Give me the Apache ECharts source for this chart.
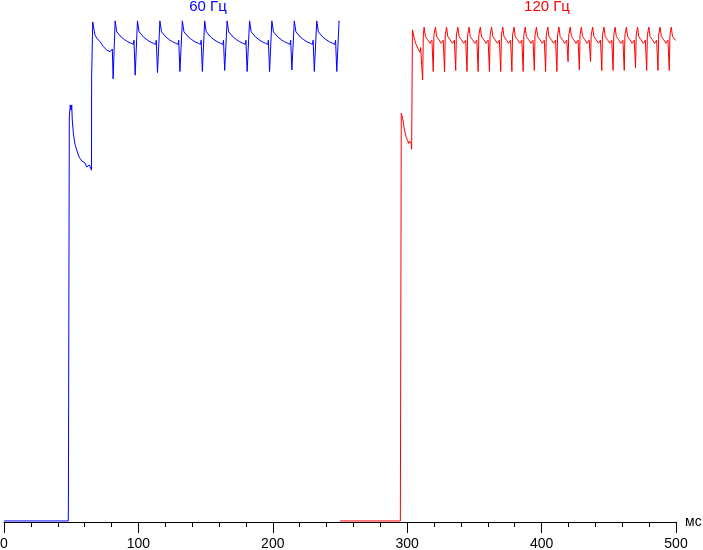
<!DOCTYPE html>
<html>
<head>
<meta charset="utf-8">
<script src="https://cdn.jsdelivr.net/npm/echarts@6/dist/echarts.min.js"></script>
<style>
  html, body { margin: 0; padding: 0; background: #fff; }
  #chart { width: 703px; height: 550px; }
</style>
</head>
<body>
<div id="chart"></div>
<script>
// time axis, ms
const xTicks = [0, 100, 200, 300, 400, 500]
const xUnit = 'мс'
const blueLabel = '60 Гц'
const redLabel = '120 Гц'

// brightness (relative), one line per refresh cycle: [ms, level]
const blueTrace = [
  [0, 0.2], [47.8, 0.2], [47.9, 2.7], [48.6, 77.6], [49.3, 79.9], [49.9, 78.9], [50.4, 79.9], [50.8, 77.0], [51.6, 74.5], [52.3, 73.2], [53.0, 72.2], [54.1, 71.3], [55.3, 70.3], [56.5, 69.7], [57.8, 69.2], [59.0, 69.0], [60.3, 68.8], [61.5, 68.0], [63.5, 68.4], [64.5, 68.6], [65.1, 67.4], [65.2, 85.1],
  [66.0, 95.8], [66.8, 96.0], [67.3, 93.9], [67.7, 93.3], [69.0, 92.7], [71.4, 92.0], [73.9, 91.1], [76.4, 90.4], [78.9, 90.1], [80.1, 89.8], [80.6, 90.6], [81.0, 90.6], [81.2, 84.9],
  [82.7, 96.0], [83.5, 96.0], [83.9, 93.9], [84.7, 93.6], [87.2, 92.9], [89.7, 92.4], [92.1, 92.0], [94.6, 91.7], [96.3, 91.5], [96.7, 92.3], [97.3, 92.3], [97.6, 85.6],
  [99.3, 96.0], [100.1, 96.0], [100.5, 93.9], [101.3, 93.6], [103.8, 92.9], [106.3, 92.4], [108.7, 92.0], [111.2, 91.7], [112.9, 91.5], [113.3, 92.3], [113.9, 92.3], [114.2, 86.1],
  [116.0, 96.0], [116.8, 96.0], [117.2, 93.9], [118.0, 93.6], [120.5, 92.9], [123.0, 92.4], [125.4, 92.0], [127.9, 91.7], [129.6, 91.5], [130.0, 92.3], [130.6, 92.3], [130.9, 86.3],
  [132.7, 96.0], [133.5, 96.0], [133.9, 93.9], [134.7, 93.6], [137.2, 92.9], [139.7, 92.4], [142.1, 92.0], [144.6, 91.7], [146.3, 91.5], [146.7, 92.3], [147.3, 92.3], [147.6, 86.3],
  [149.3, 96.0], [150.1, 96.0], [150.5, 93.9], [151.3, 93.6], [153.8, 92.9], [156.3, 92.4], [158.7, 92.0], [161.2, 91.7], [162.9, 91.5], [163.3, 92.3], [163.9, 92.3], [164.2, 86.5],
  [166.0, 96.0], [166.8, 96.0], [167.2, 93.9], [168.0, 93.6], [170.5, 92.9], [173.0, 92.4], [175.4, 92.0], [177.9, 91.7], [179.6, 91.5], [180.0, 92.3], [180.6, 92.3], [180.9, 86.3],
  [182.7, 96.0], [183.5, 96.0], [183.9, 93.9], [184.7, 93.6], [187.2, 92.9], [189.7, 92.4], [192.1, 92.0], [194.6, 91.7], [196.3, 91.5], [196.7, 92.3], [197.3, 92.3], [197.6, 86.3],
  [199.3, 96.0], [200.1, 96.0], [200.5, 93.9], [201.3, 93.6], [203.8, 92.9], [206.3, 92.4], [208.7, 92.0], [211.2, 91.7], [212.9, 91.5], [213.3, 92.3], [213.9, 92.3], [214.2, 86.6],
  [216.0, 96.0], [216.8, 96.0], [217.2, 93.9], [218.0, 93.6], [220.5, 92.9], [223.0, 92.4], [225.4, 92.0], [227.9, 91.7], [229.6, 91.5], [230.0, 92.3], [230.6, 92.3], [230.9, 86.3],
  [232.7, 96.0], [233.5, 96.0], [233.9, 93.9], [234.7, 93.6], [237.2, 92.9], [239.7, 92.4], [242.1, 92.0], [244.6, 91.7], [246.3, 91.5], [246.7, 92.3], [247.3, 92.3], [247.6, 86.3],
  [249.3, 96.0], [249.8, 95.9]
]

const redTrace = [
  [250.0, 0.2], [294.9, 0.2], [295.6, 78.3], [296.4, 78.3], [296.9, 77.0], [297.4, 76.1], [297.9, 75.1], [298.6, 74.5], [299.1, 73.8], [299.9, 73.3], [300.6, 72.9], [301.1, 72.5], [301.6, 73.0], [302.1, 72.7], [302.6, 72.9], [303.0, 72.5], [303.3, 71.4], [303.8, 71.5], [303.9, 94.3],
  [304.5, 94.3], [305.6, 92.3], [306.3, 91.7], [307.1, 91.4], [308.0, 90.7], [308.8, 90.4], [309.5, 90.0], [310.0, 90.9], [310.8, 90.7], [311.5, 84.7], [312.0, 93.3],
  [312.6, 94.8], [313.1, 94.7], [313.5, 93.0], [315.2, 92.4], [316.2, 92.1], [316.9, 91.7], [317.7, 91.6], [318.4, 92.3], [318.9, 92.3], [319.4, 86.3], [319.9, 93.3],
  [321.0, 94.8], [321.5, 94.7], [321.9, 93.0], [323.6, 92.4], [324.6, 92.1], [325.3, 91.7], [326.1, 91.6], [326.8, 92.3], [327.3, 92.3], [327.8, 86.2], [328.3, 93.3],
  [329.3, 94.8], [329.8, 94.7], [330.2, 93.0], [331.9, 92.4], [332.9, 92.1], [333.6, 91.7], [334.4, 91.6], [335.1, 92.3], [335.6, 92.3], [336.1, 86.5], [336.6, 93.3],
  [337.7, 94.8], [338.2, 94.7], [338.6, 93.0], [340.3, 92.4], [341.3, 92.1], [342.0, 91.7], [342.8, 91.6], [343.5, 92.3], [344.0, 92.3], [344.5, 86.3], [345.0, 93.3],
  [346.0, 94.8], [346.5, 94.7], [346.9, 93.0], [348.6, 92.4], [349.6, 92.1], [350.3, 91.7], [351.1, 91.6], [351.8, 92.3], [352.3, 92.3], [352.8, 86.3], [353.3, 93.3],
  [354.4, 94.8], [354.9, 94.7], [355.3, 93.0], [357.0, 92.4], [358.0, 92.1], [358.7, 91.7], [359.5, 91.6], [360.2, 92.3], [360.7, 92.3], [361.2, 86.3], [361.7, 93.3],
  [362.8, 94.8], [363.3, 94.7], [363.7, 93.0], [365.4, 92.4], [366.4, 92.1], [367.1, 91.7], [367.9, 91.6], [368.6, 92.3], [369.1, 92.3], [369.6, 86.3], [370.1, 93.3],
  [371.1, 94.8], [371.6, 94.7], [372.0, 93.0], [373.7, 92.4], [374.7, 92.1], [375.4, 91.7], [376.2, 91.6], [376.9, 92.3], [377.4, 92.3], [377.9, 86.3], [378.4, 93.3],
  [379.5, 94.8], [380.0, 94.7], [380.4, 93.0], [382.1, 92.4], [383.1, 92.1], [383.8, 91.7], [384.6, 91.6], [385.3, 92.3], [385.8, 92.3], [386.3, 86.3], [386.8, 93.3],
  [387.8, 94.8], [388.3, 94.7], [388.7, 93.0], [390.4, 92.4], [391.4, 92.1], [392.1, 91.7], [392.9, 91.6], [393.6, 92.3], [394.1, 92.3], [394.6, 86.5], [395.1, 93.3],
  [396.2, 94.8], [396.7, 94.7], [397.1, 93.0], [398.8, 92.4], [399.8, 92.1], [400.5, 91.7], [401.3, 91.6], [402.0, 92.3], [402.5, 92.3], [403.0, 86.3], [403.5, 93.3],
  [404.6, 94.8], [405.1, 94.7], [405.5, 93.0], [407.2, 92.4], [408.2, 92.1], [408.9, 91.7], [409.7, 91.6], [410.4, 92.3], [410.9, 92.3], [411.4, 86.3], [411.9, 93.3],
  [412.9, 94.8], [413.4, 94.7], [413.8, 93.0], [415.5, 92.4], [416.5, 92.1], [417.2, 91.7], [418.0, 91.6], [418.7, 92.3], [419.2, 92.3], [419.7, 88.2], [420.2, 93.3],
  [421.3, 94.8], [421.8, 94.7], [422.2, 93.0], [423.9, 92.4], [424.9, 92.1], [425.6, 91.7], [426.4, 91.6], [427.1, 92.3], [427.6, 92.3], [428.1, 86.6], [428.6, 93.3],
  [429.6, 94.8], [430.1, 94.7], [430.5, 93.0], [432.2, 92.4], [433.2, 92.1], [433.9, 91.7], [434.7, 91.6], [435.4, 92.3], [435.9, 92.3], [436.4, 88.2], [436.9, 93.3],
  [438.0, 94.8], [438.5, 94.7], [438.9, 93.0], [440.6, 92.4], [441.6, 92.1], [442.3, 91.7], [443.1, 91.6], [443.8, 92.3], [444.3, 92.3], [444.8, 86.5], [445.3, 93.3],
  [446.4, 94.8], [446.9, 94.7], [447.3, 93.0], [449.0, 92.4], [450.0, 92.1], [450.7, 91.7], [451.5, 91.6], [452.2, 92.3], [452.7, 92.3], [453.2, 86.5], [453.7, 93.3],
  [454.7, 94.8], [455.2, 94.7], [455.6, 93.0], [457.3, 92.4], [458.3, 92.1], [459.0, 91.7], [459.8, 91.6], [460.5, 92.3], [461.0, 92.3], [461.5, 86.5], [462.0, 93.3],
  [463.1, 94.8], [463.6, 94.7], [464.0, 93.0], [465.7, 92.4], [466.7, 92.1], [467.4, 91.7], [468.2, 91.6], [468.9, 92.3], [469.4, 92.3], [469.9, 87.0], [470.4, 93.3],
  [471.4, 94.8], [471.9, 94.7], [472.3, 93.0], [474.0, 92.4], [475.0, 92.1], [475.7, 91.7], [476.5, 91.6], [477.2, 92.3], [477.7, 92.3], [478.2, 86.5], [478.7, 93.3],
  [479.8, 94.8], [480.3, 94.7], [480.7, 93.0], [482.4, 92.4], [483.4, 92.1], [484.1, 91.7], [484.9, 91.6], [485.6, 92.3], [486.1, 92.3], [486.6, 86.5], [487.1, 93.3],
  [488.2, 94.8], [488.7, 94.7], [489.1, 93.0], [490.8, 92.4], [491.8, 92.1], [492.5, 91.7], [493.3, 91.6], [494.0, 92.3], [494.5, 92.3], [495.0, 86.5], [495.5, 93.3],
  [496.5, 94.8], [497.0, 94.7], [497.4, 93.0], [499.1, 92.4], [499.8, 92.3]
]

const font = '"Liberation Sans", Arial, sans-serif'
const chart = echarts.init(document.getElementById('chart'), null, { renderer: 'canvas' })

chart.setOption({
  animation: false,
  backgroundColor: '#fff',
  grid: { left: 4, right: 27, top: 0, bottom: 28, containLabel: false, outerBoundsMode: 'none' },
  xAxis: {
    type: 'value',
    min: xTicks[0],
    max: xTicks[xTicks.length - 1],
    interval: xTicks[1] - xTicks[0],
    name: xUnit,
    nameLocation: 'end',
    nameGap: 9,
    nameTextStyle: { color: '#000', fontSize: 14, fontFamily: font },
    axisLine: { show: true, lineStyle: { color: '#000', width: 1 } },
    axisTick: { show: true, length: 11, lineStyle: { color: '#000', width: 1 } },
    minorTick: { show: true, splitNumber: 5, length: 5, lineStyle: { color: '#000', width: 1 } },
    splitLine: { show: false },
    axisLabel: { color: '#000', fontSize: 14, fontFamily: font, margin: 15 }
  },
  yAxis: { type: 'value', min: 0, max: 100, show: false },
  graphic: [
    { type: 'text', x: 208, y: 7, style: { text: blueLabel, fill: '#0000ff', font: '15px ' + font, align: 'center', verticalAlign: 'middle' } },
    { type: 'text', x: 547, y: 7, style: { text: redLabel, fill: '#ff0000', font: '15px ' + font, align: 'center', verticalAlign: 'middle' } }
  ],
  series: [
    {
      name: blueLabel,
      type: 'line',
      data: blueTrace,
      showSymbol: false,
      lineStyle: { color: '#0000ff', width: 1 },
      itemStyle: { color: '#0000ff' }
    },
    {
      name: redLabel,
      type: 'line',
      data: redTrace,
      showSymbol: false,
      lineStyle: { color: '#ff0000', width: 1 },
      itemStyle: { color: '#ff0000' }
    }
  ]
})
</script>
</body>
</html>
